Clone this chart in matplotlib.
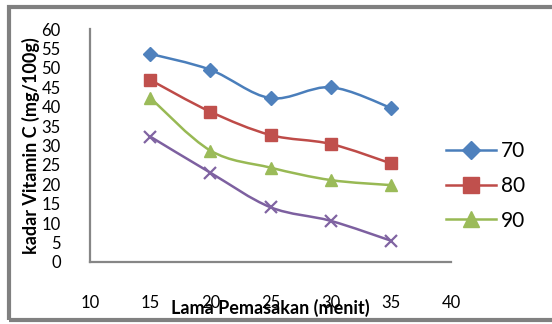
import matplotlib
matplotlib.use("Agg")
import matplotlib.pyplot as plt
from matplotlib.path import Path
from matplotlib.patches import PathPatch, Rectangle
from matplotlib.lines import Line2D

plt.rcParams['font.family'] = ['Lato', 'DejaVu Sans']

# Lama pemasakan (menit) and vitamin C content per temperature
menit = [15, 20, 25, 30, 35]
suhu_70 = [53.6, 49.5, 42.2, 45.0, 39.7]
suhu_80 = [46.9, 38.7, 32.7, 30.4, 25.4]
suhu_90 = [42.3, 28.7, 24.3, 21.1, 19.8]
suhu_100 = [32.3, 23.0, 14.1, 10.6, 5.5]
legend_labels = ['70', '80', '90']
x_ticks = [10, 15, 20, 25, 30, 35, 40]
y_ticks = [0, 5, 10, 15, 20, 25, 30, 35, 40, 45, 50, 55, 60]


# Smooth line through the points (Catmull-Rom as cubic Bezier segments)
def smooth_path(xs, ys):
    pts = list(zip(xs, ys))
    verts = [pts[0]]
    codes = [Path.MOVETO]
    n = len(pts)
    for i in range(n - 1):
        p0 = pts[i - 1] if i > 0 else pts[i]
        p1 = pts[i]
        p2 = pts[i + 1]
        p3 = pts[i + 2] if i + 2 < n else pts[i + 1]
        c1 = (p1[0] + (p2[0] - p0[0]) / 6, p1[1] + (p2[1] - p0[1]) / 6)
        c2 = (p2[0] - (p3[0] - p1[0]) / 6, p2[1] - (p3[1] - p1[1]) / 6)
        verts += [c1, c2, p2]
        codes += [Path.CURVE4] * 3
    return Path(verts, codes)


fig = plt.figure(figsize=(5.52, 3.24), dpi=100)
ax = fig.add_axes([90 / 552, 1 - 262 / 324, 361 / 552, 233 / 324])

series = [
    (suhu_70, '#4A7EBB', '#4F81BD', 'D', 7.5, 1.0),
    (suhu_80, '#BE4B48', '#C0504D', 's', 9, 1.0),
    (suhu_90, '#98B954', '#9BBB59', '^', 9, 1.0),
    (suhu_100, '#7D60A0', '#8064A2', 'x', 8, 1.6),
]

handles = []
for vals, lc, mc, mk, ms, mew in series:
    ax.add_patch(PathPatch(smooth_path(menit, vals), facecolor='none',
                           edgecolor=lc, linewidth=1.8, zorder=2))
    ax.plot(menit, vals, linestyle='none', marker=mk, markersize=ms,
            markerfacecolor=mc, markeredgecolor=mc, markeredgewidth=mew,
            zorder=3)
    handles.append(Line2D([], [], color=lc, linewidth=1.8, marker=mk,
                          markersize=ms + 2, markerfacecolor=mc,
                          markeredgecolor=mc, markeredgewidth=mew))

ax.set_xlim(10, 40)
ax.set_ylim(0, 60)
ax.set_xticks(x_ticks)
ax.set_yticks(y_ticks)
ax.tick_params(axis='both', length=0, labelsize=12, colors='black')
ax.tick_params(axis='y', pad=21)
ax.tick_params(axis='x', pad=24)

for side in ['top', 'right']:
    ax.spines[side].set_visible(False)
for side in ['left', 'bottom']:
    ax.spines[side].set_color('#868686')
    ax.spines[side].set_linewidth(1.6)

ax.set_ylabel('kadar Vitamin C (mg/100g)', fontsize=13, fontweight='bold',
              labelpad=1)
ax.set_xlabel('Lama Pemasakan (menit)', fontsize=13, fontweight='bold',
              labelpad=-9)

fig.legend(handles[:3], legend_labels, loc='center left',
           bbox_to_anchor=(446 / 552, 1 - 186 / 324),
           bbox_transform=fig.transFigure, frameon=False, fontsize=15,
           handlelength=2.4, handletextpad=0.25, labelspacing=0.7,
           borderpad=0, borderaxespad=0, numpoints=1)

# Grey chart-area border
fig.add_artist(Rectangle((9 / 552, 4 / 324), 1.0, 313 / 324,
                         transform=fig.transFigure, fill=False,
                         edgecolor='#808080', linewidth=3, clip_on=False))

fig.savefig('out.png', dpi=100)
